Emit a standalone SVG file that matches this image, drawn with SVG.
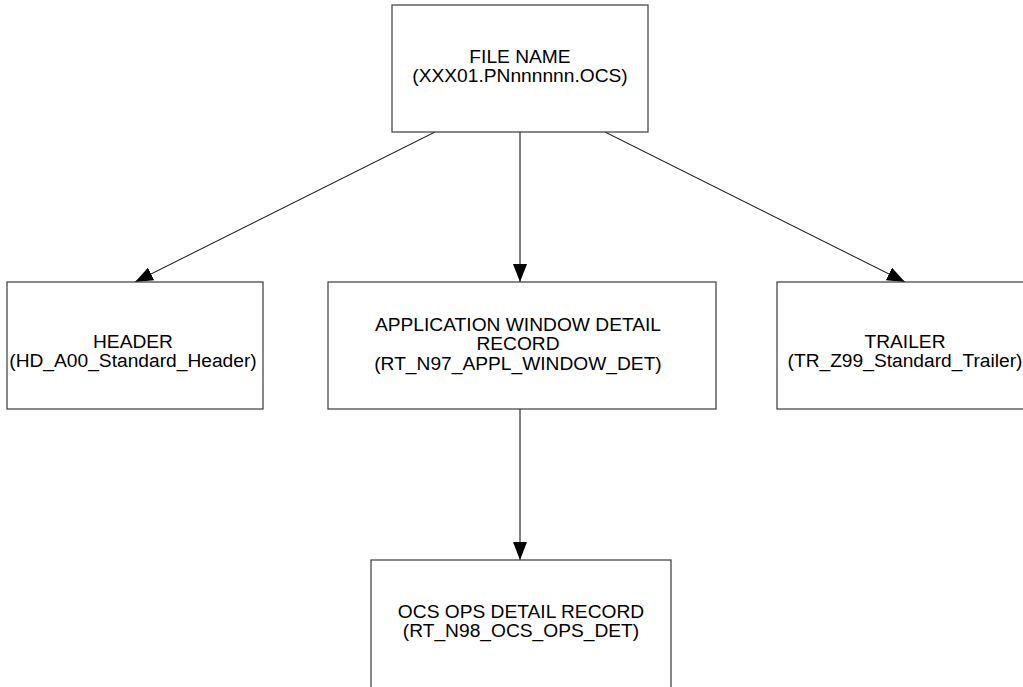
<svg xmlns="http://www.w3.org/2000/svg" width="1023" height="687" viewBox="0 0 1023 687">
<style>
.box{fill:#fff;stroke:#3a3a3a;stroke-width:1.2}
.t{font-family:"Liberation Sans",Arial,sans-serif;font-size:19.2px;fill:#000;text-anchor:middle}
.c{stroke:#000;stroke-width:1;fill:none;marker-end:url(#ah)}
</style>
<defs>
<marker id="ah" markerUnits="userSpaceOnUse" markerWidth="20" markerHeight="14" refX="18" refY="7" orient="auto">
<path d="M0,0 L18,7 L0,14 Z" fill="#000"/>
</marker>
</defs>
<rect width="1023" height="687" fill="#fff"/>
<g id="connectors">
<line class="c" x1="435" y1="132" x2="135" y2="282"/>
<line class="c" x1="520" y1="132" x2="520" y2="282"/>
<line class="c" x1="605" y1="132" x2="905" y2="282"/>
<line class="c" x1="520" y1="409" x2="520" y2="560"/>
</g>
<g id="file-name">
<rect class="box" x="392" y="5" width="256" height="127"/>
<text class="t" x="520" y="63">FILE NAME</text>
<text class="t" x="520" y="82">(XXX01.PNnnnnnn.OCS)</text>
</g>
<g id="header">
<rect class="box" x="7" y="282" width="256" height="127"/>
<text class="t" x="133" y="348">HEADER</text>
<text class="t" x="133" y="367">(HD_A00_Standard_Header)</text>
</g>
<g id="app-window">
<rect class="box" x="328" y="282" width="388" height="127"/>
<text class="t" x="518" y="331">APPLICATION WINDOW DETAIL</text>
<text class="t" x="518" y="350">RECORD</text>
<text class="t" x="518" y="370">(RT_N97_APPL_WINDOW_DET)</text>
</g>
<g id="trailer">
<rect class="box" x="777" y="282" width="256" height="127"/>
<text class="t" x="905" y="348">TRAILER</text>
<text class="t" x="905" y="367">(TR_Z99_Standard_Trailer)</text>
</g>
<g id="ocs-ops">
<rect class="box" x="371" y="560" width="300" height="140"/>
<text class="t" x="521" y="618">OCS OPS DETAIL RECORD</text>
<text class="t" x="521" y="637">(RT_N98_OCS_OPS_DET)</text>
</g>
</svg>
